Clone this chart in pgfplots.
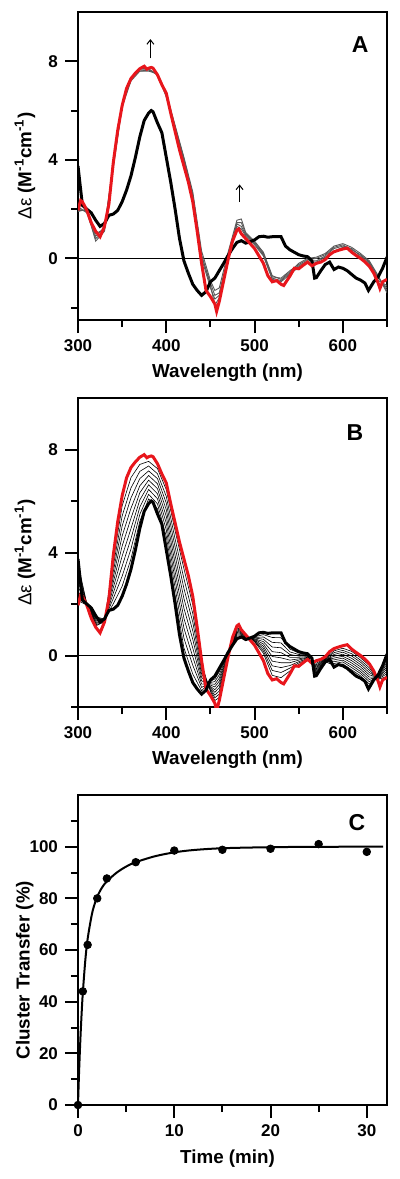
\documentclass[border=0pt]{standalone}
\usepackage{pgfplots}
\pgfplotsset{compat=1.18}
\usepackage{pgfplotstable}
\usepackage{fontspec}
\setmainfont{Liberation Sans}
\usetikzlibrary{arrows.meta}
\definecolor{cdred}{RGB}{232,22,28}

\pgfplotstableread{
l v
300 3.75
305 2.15
310 2.0
315 1.85
320 1.55
325 1.3
330 1.42
335 1.75
340 1.8
345 1.95
350 2.3
355 2.77
360 3.35
365 4.1
370 4.93
375 5.6
380 5.9
383 6.0
385 5.95
390 5.5
395 5.1
400 4.1
405 3.1
410 2.0
415 0.8
420 -0.1
425 -0.6
430 -1.05
435 -1.3
440 -1.5
445 -1.35
450 -0.95
455 -0.8
460 -0.5
465 -0.2
470 0.12
475 0.4
480 0.65
485 0.72
490 0.62
495 0.68
500 0.75
505 0.88
510 0.9
515 0.86
520 0.88
525 0.88
530 0.88
535 0.5
540 0.35
545 0.25
550 0.15
555 0.1
560 0.07
565 -0.1
568 -0.8
570 -0.78
575 -0.5
580 -0.25
585 -0.15
590 -0.45
595 -0.35
600 -0.4
605 -0.5
610 -0.65
615 -0.8
620 -0.88
625 -1.0
629 -1.3
635 -0.95
640 -0.75
645 -0.4
650 0.05
}\blackdata

\pgfplotstableread{
l v
300 1.95
303 2.35
305 2.3
310 1.95
315 1.45
320 1.1
325 0.88
330 1.3
335 2.2
340 3.9
345 5.2
350 6.2
355 6.9
360 7.3
365 7.52
370 7.7
375 7.8
378 7.68
380 7.72
383 7.75
385 7.72
390 7.45
395 7.05
400 6.7
405 5.9
410 5.15
415 4.4
420 3.75
425 3.1
430 2.3
435 1.1
440 -0.2
445 -1.3
450 -1.55
455 -1.85
457 -2.15
460 -1.75
465 -0.9
470 -0.05
475 0.7
480 1.15
482 1.2
485 1.0
490 0.8
495 0.6
500 0.4
505 0.1
510 -0.2
515 -0.7
520 -0.95
525 -0.9
530 -1.05
533 -1.1
540 -0.72
545 -0.4
550 -0.42
555 -0.28
560 -0.15
565 -0.3
570 -0.2
575 -0.15
580 -0.05
585 0.15
590 0.27
595 0.33
600 0.38
605 0.42
610 0.25
615 0.12
620 0.0
625 -0.14
630 -0.32
635 -0.6
640 -1.0
642 -1.22
645 -0.95
650 -0.85
}\reddata

\pgfplotstableread{
l g1 g2 g3 g4
300 2.0 1.9 2.1 1.95
310 1.9 2.0 1.85 1.95
320 1.0 0.9 0.8 0.7
330 1.2 1.25 1.15 1.1
340 3.8 3.85 3.75 3.7
350 6.2 6.25 6.2 6.15
360 7.25 7.3 7.3 7.2
370 7.65 7.6 7.7 7.6
380 7.65 7.6 7.7 7.65
390 7.45 7.5 7.45 7.5
400 6.6 6.7 6.55 6.65
410 5.3 5.4 5.2 5.35
420 4.0 4.1 3.95 4.05
430 2.6 2.7 2.5 2.55
440 0.1 0.3 0.0 0.15
450 -1.0 -0.9 -1.2 -1.1
455 -1.5 -1.3 -1.65 -1.9
460 -1.4 -1.2 -1.5 -1.6
470 0.1 0.25 0.0 0.05
480 1.4 1.55 1.3 1.45
485 1.3 1.6 1.2 1.45
490 0.95 1.05 0.9 1.0
500 0.6 0.7 0.55 0.65
510 0.15 0.25 0.1 0.2
520 -0.8 -0.7 -0.85 -0.75
530 -0.9 -0.85 -0.95 -0.8
540 -0.6 -0.55 -0.65 -0.5
550 -0.3 -0.2 -0.35 -0.25
560 -0.1 0.0 -0.15 -0.05
570 -0.1 0.05 -0.15 0.0
580 0.1 0.2 0.05 0.15
590 0.4 0.5 0.3 0.45
600 0.5 0.6 0.45 0.55
610 0.4 0.45 0.3 0.35
620 0.1 0.2 0.05 0.15
630 -0.2 -0.1 -0.25 -0.15
640 -0.8 -0.7 -0.9 -0.75
650 -1.2 -1.4 -1.1 -1.3
}\graydata

\pgfplotstableread{
l c1 c2 c3 c4 c5 c6 c7 c8 c9
300 3.57 3.39 3.21 3.03 2.85 2.67 2.49 2.31 2.13
310 2.0 2.0 1.99 1.98 1.98 1.97 1.97 1.96 1.96
320 1.51 1.46 1.42 1.37 1.33 1.28 1.24 1.19 1.15
330 1.41 1.40 1.38 1.37 1.36 1.35 1.34 1.32 1.31
340 2.01 2.22 2.43 2.64 2.85 3.06 3.27 3.48 3.69
350 2.69 3.08 3.47 3.86 4.25 4.64 5.03 5.42 5.81
360 3.75 4.14 4.54 4.93 5.33 5.72 6.12 6.51 6.91
370 5.21 5.48 5.76 6.04 6.32 6.59 6.87 7.15 7.42
380 6.08 6.26 6.45 6.63 6.81 6.99 7.17 7.36 7.54
390 5.70 5.89 6.09 6.28 6.48 6.67 6.87 7.06 7.26
400 4.36 4.62 4.88 5.14 5.40 5.66 5.92 6.18 6.44
410 2.32 2.63 2.95 3.26 3.58 3.89 4.21 4.52 4.84
420 0.29 0.67 1.06 1.44 1.83 2.21 2.60 2.98 3.37
430 -0.72 -0.38 -0.05 0.29 0.63 0.96 1.30 1.63 1.97
440 -1.37 -1.24 -1.11 -0.98 -0.85 -0.72 -0.59 -0.46 -0.33
450 -1.0 -1.05 -1.1 -1.15 -1.2 -1.25 -1.3 -1.35 -1.4
455 -0.91 -1.01 -1.12 -1.22 -1.33 -1.43 -1.54 -1.64 -1.75
460 -0.63 -0.75 -0.88 -1.0 -1.13 -1.25 -1.38 -1.5 -1.63
470 0.10 0.08 0.05 0.03 0.01 -0.01 -0.03 -0.06 -0.08
480 0.70 0.75 0.80 0.85 0.90 0.95 1.0 1.05 1.10
485 0.73 0.76 0.79 0.82 0.85 0.88 0.91 0.94 0.97
490 0.64 0.67 0.69 0.71 0.74 0.76 0.78 0.80 0.83
500 0.73 0.70 0.68 0.65 0.63 0.60 0.58 0.55 0.53
510 0.81 0.72 0.63 0.54 0.45 0.36 0.27 0.18 0.09
520 0.70 0.51 0.33 0.15 -0.04 -0.22 -0.40 -0.58 -0.77
530 0.69 0.49 0.30 0.11 -0.09 -0.28 -0.47 -0.66 -0.86
540 0.25 0.14 0.04 -0.07 -0.18 -0.28 -0.39 -0.49 -0.60
550 0.10 0.04 -0.02 -0.07 -0.13 -0.18 -0.24 -0.29 -0.35
560 0.04 0.02 -0.01 -0.04 -0.07 -0.09 -0.12 -0.15 -0.17
570 -0.73 -0.67 -0.62 -0.57 -0.52 -0.46 -0.41 -0.36 -0.30
580 -0.24 -0.22 -0.21 -0.19 -0.18 -0.16 -0.15 -0.13 -0.12
590 -0.38 -0.31 -0.24 -0.17 -0.10 -0.03 0.04 0.11 0.18
600 -0.33 -0.25 -0.18 -0.10 -0.03 0.05 0.13 0.20 0.28
610 -0.56 -0.47 -0.38 -0.29 -0.20 -0.11 -0.02 0.07 0.16
620 -0.79 -0.70 -0.62 -0.53 -0.44 -0.35 -0.26 -0.18 -0.09
630 -1.11 -1.02 -0.93 -0.84 -0.75 -0.66 -0.57 -0.48 -0.39
640 -0.77 -0.79 -0.81 -0.83 -0.85 -0.87 -0.89 -0.91 -0.93
650 -0.05 -0.14 -0.24 -0.33 -0.43 -0.52 -0.62 -0.71 -0.81
}\mixdata

\pgfplotstableread{
t p
0 0
0.5 44
1 62
2 80
3 87.7
6 94
10 98.5
15 98.8
20 99.2
25 101
30 98
}\pointsdata

\pgfplotstableread{
t f
0 0
0.1 11.5
0.2 21.3
0.3 29.7
0.4 37.1
0.5 43.4
0.75 55.6
1 64.3
1.5 74.8
2 80.6
2.5 84.2
3 86.6
4 89.9
5 92.3
6 94.0
8 96.3
10 97.8
12 98.7
15 99.4
20 99.8
25 99.95
31.7 100
}\fitdata

\pgfplotsset{
  panel/.style={
    scale only axis, width=154.5pt, height=154pt, anchor=north west,
    axis line style={line width=1pt},
    tick style={line width=1pt, black},
    tick align=outside, tick pos=left,
    major tick length=6.5pt, minor tick length=3.5pt,
    tick label style={font=\fontsize{8.5}{10}\selectfont\bfseries},
    /pgf/number format/assume math mode=true,
    label style={font=\fontsize{9.4}{11}\selectfont\bfseries},
    ylabel style={at={(axis description cs:-0.172,0.5)}, anchor=center},
    xlabel style={at={(axis description cs:0.484,-0.172)}, anchor=center},
  },
  spec/.style={
    panel, xmin=300, xmax=650, ymax=10,
    xtick={300,400,500,600}, minor xtick={350,450,550,650},
    ytick={0,4,8}, minor ytick={-2,2,6},
    xlabel={Wavelength (nm)},
    ylabel={{\mdseries Δε} (M\textsuperscript{-1}cm\textsuperscript{-1})},
  },
}

\begin{document}
\begin{tikzpicture}[x=1pt,y=1pt]
\path[use as bounding box] (0,0) rectangle (200,-589.5);

% Panel A
\begin{axis}[spec, at={(39pt,-6pt)}, ymin=-2.5]
\addplot[black, line width=0.7pt, forget plot] coordinates {(300,0) (650,0)};
\foreach \c in {g1,g2,g3,g4} {
  \addplot[black!65, line width=0.45pt] table[x=l, y=\c] {\graydata};
}
\addplot[black, line width=1.5pt] table[x=l, y=v] {\blackdata};
\addplot[cdred, line width=1.5pt] table[x=l, y=v] {\reddata};
\draw[-{Straight Barb[length=2.2pt,width=3.5pt]}, line width=0.5pt] (axis cs:382,8.12) -- (axis cs:382,8.9);
\draw[-{Straight Barb[length=2.2pt,width=3.5pt]}, line width=0.5pt] (axis cs:483,2.28) -- (axis cs:483,3.0);
\node[font=\fontsize{11.5}{13}\selectfont\bfseries] at (rel axis cs:0.913,0.893) {A};
\end{axis}

% Panel B
\begin{axis}[spec, at={(39pt,-199pt)}, height=154.5pt, ymin=-2]
\addplot[black, line width=0.7pt, forget plot] coordinates {(300,0) (650,0)};
\foreach \c in {c1,c2,c3,c4,c5,c6,c7,c8,c9} {
  \addplot[black, line width=0.3pt] table[x=l, y=\c] {\mixdata};
}
\addplot[cdred, line width=1.5pt] table[x=l, y=v] {\reddata};
\addplot[black, line width=1.5pt] table[x=l, y=v] {\blackdata};
\node[font=\fontsize{11.5}{13}\selectfont\bfseries] at (rel axis cs:0.896,0.887) {B};
\end{axis}

% Panel C
\begin{axis}[panel, at={(39pt,-397.5pt)}, height=155pt,
  xmin=0, xmax=32.1, ymin=0, ymax=120, clip=false,
  xtick={0,10,20,30}, minor xtick={5,15,25},
  ytick={0,20,40,60,80,100}, minor ytick={10,30,50,70,90,110},
  xlabel={Time (min)}, ylabel={Cluster Transfer (\%)},
  ylabel style={at={(axis description cs:-0.172,0.435)}, anchor=center}]
\addplot[black, line width=1pt, smooth] table[x=t, y=f] {\fitdata};
\addplot[only marks, mark=*, mark size=1.9pt, black] table[x=t, y=p] {\pointsdata};
\node[font=\fontsize{11.5}{13}\selectfont\bfseries] at (rel axis cs:0.903,0.91) {C};
\end{axis}
\end{tikzpicture}
\end{document}
